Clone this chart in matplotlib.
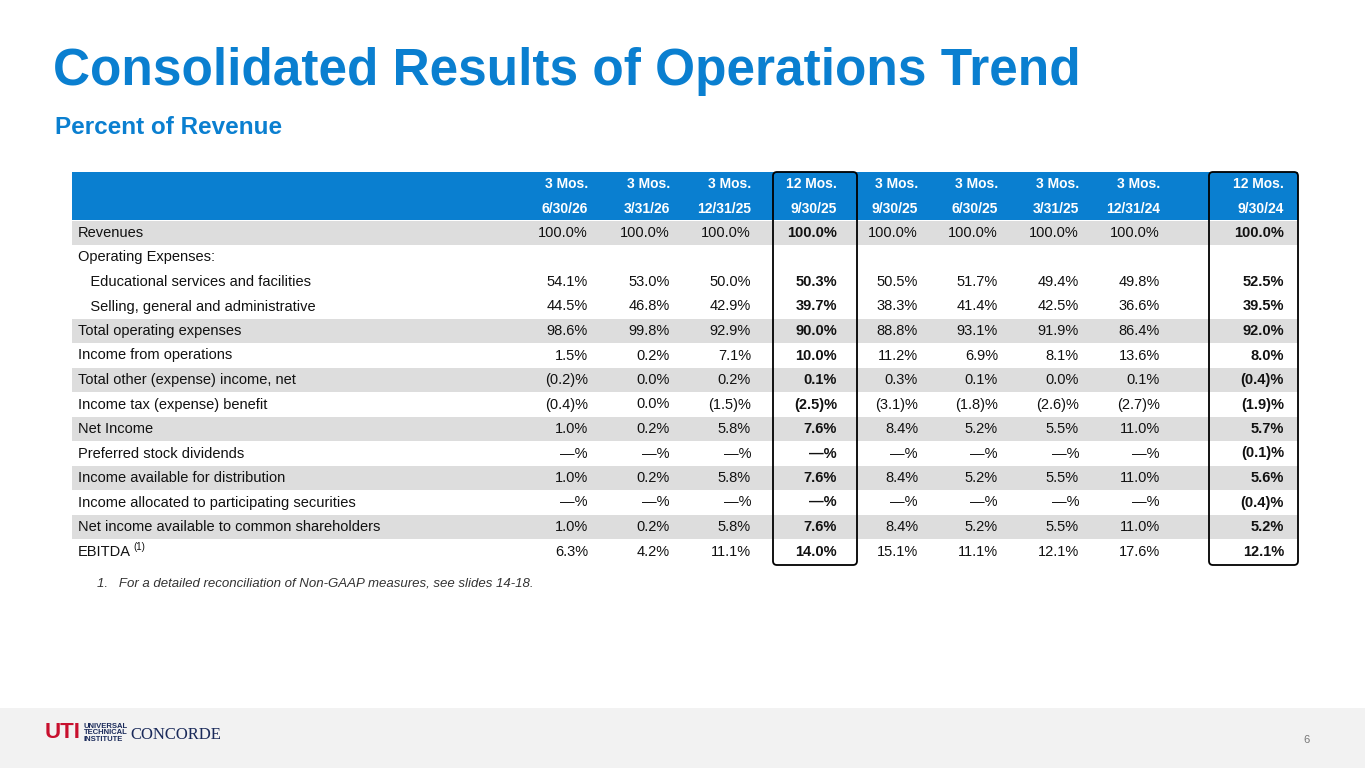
import matplotlib
matplotlib.use("Agg")
import matplotlib.pyplot as plt
from matplotlib.patches import Rectangle, FancyBboxPatch

title = "Consolidated Results of Operations Trend"
subtitle = "Percent of Revenue"
col_top = ["3 Mos.", "3 Mos.", "3 Mos.", "12 Mos.", "3 Mos.", "3 Mos.", "3 Mos.", "3 Mos.", "12 Mos."]
col_bot = ["6/30/26", "3/31/26", "12/31/25", "9/30/25", "9/30/25", "6/30/25", "3/31/25", "12/31/24", "9/30/24"]
row_labels = ["Revenues", "Operating Expenses:", "   Educational services and facilities",
              "   Selling, general and administrative", "Total operating expenses",
              "Income from operations", "Total other (expense) income, net",
              "Income tax (expense) benefit", "Net Income", "Preferred stock dividends",
              "Income available for distribution", "Income allocated to participating securities",
              "Net income available to common shareholders", "EBITDA"]
D = "—%"
values = [
    ["100.0%"] * 9,
    [""] * 9,
    ["54.1%", "53.0%", "50.0%", "50.3%", "50.5%", "51.7%", "49.4%", "49.8%", "52.5%"],
    ["44.5%", "46.8%", "42.9%", "39.7%", "38.3%", "41.4%", "42.5%", "36.6%", "39.5%"],
    ["98.6%", "99.8%", "92.9%", "90.0%", "88.8%", "93.1%", "91.9%", "86.4%", "92.0%"],
    ["1.5%", "0.2%", "7.1%", "10.0%", "11.2%", "6.9%", "8.1%", "13.6%", "8.0%"],
    ["(0.2)%", "0.0%", "0.2%", "0.1%", "0.3%", "0.1%", "0.0%", "0.1%", "(0.4)%"],
    ["(0.4)%", "0.0%", "(1.5)%", "(2.5)%", "(3.1)%", "(1.8)%", "(2.6)%", "(2.7)%", "(1.9)%"],
    ["1.0%", "0.2%", "5.8%", "7.6%", "8.4%", "5.2%", "5.5%", "11.0%", "5.7%"],
    [D, D, D, D, D, D, D, D, "(0.1)%"],
    ["1.0%", "0.2%", "5.8%", "7.6%", "8.4%", "5.2%", "5.5%", "11.0%", "5.6%"],
    [D, D, D, D, D, D, D, D, "(0.4)%"],
    ["1.0%", "0.2%", "5.8%", "7.6%", "8.4%", "5.2%", "5.5%", "11.0%", "5.2%"],
    ["6.3%", "4.2%", "11.1%", "14.0%", "15.1%", "11.1%", "12.1%", "17.6%", "12.1%"],
]
shaded = [0, 4, 6, 8, 10, 12]
bold_cols = [3, 8]

BLUE = "#0A7FD0"
plt.rcParams['font.family'] = ['Liberation Sans', 'DejaVu Sans']
fig = plt.figure(figsize=(13.65, 7.68), dpi=100)
ax = fig.add_axes([0, 0, 1, 1])
ax.set_xlim(0, 1365); ax.set_ylim(768, 0); ax.axis("off")

ax.text(53, 72, title, fontsize=37, fontweight="bold", color=BLUE, va="center")
ax.text(55, 128, subtitle, fontsize=17.5, fontweight="bold", color=BLUE, va="center")

x0, x1 = 72, 1298
ax.add_patch(Rectangle((x0, 172), x1 - x0, 48, color=BLUE, lw=0))
col_right = [588, 670, 751, 837, 918, 998, 1079, 1160, 1284]
for j in range(9):
    ax.text(col_right[j], 184, col_top[j], fontsize=10, fontweight="bold", color="white", ha="right", va="center")
    ax.text(col_right[j], 209, col_bot[j], fontsize=10, fontweight="bold", color="white", ha="right", va="center")

y0, dy = 233, 24.5
for i, lab in enumerate(row_labels):
    y = y0 + i * dy
    if i in shaded:
        ax.add_patch(Rectangle((x0, y - dy / 2), x1 - x0, dy, color="#DDDDDD", lw=0))
    ax.text(78, y, lab, fontsize=10.5, color="#111111", va="center")
    if lab == "EBITDA":
        ax.text(133, y - 5, "(1)", fontsize=7, color="#111111", va="center")
    for j in range(9):
        ax.text(col_right[j], y, values[i][j], fontsize=10.5, color="#111111", ha="right", va="center",
                fontweight="bold" if j in bold_cols else "normal")

for bx0, bx1 in [(773, 857), (1209, 1298)]:
    ax.add_patch(FancyBboxPatch((bx0, 172), bx1 - bx0, 393, boxstyle="round,pad=0,rounding_size=4",
                                fill=False, ec="black", lw=1.3))

ax.text(97, 583, "1.   For a detailed reconciliation of Non-GAAP measures, see slides 14-18.",
        fontsize=9.5, style="italic", color="#333333", va="center")

ax.add_patch(Rectangle((0, 708), 1365, 60, color="#F2F2F2", lw=0))
ax.text(45, 733, "UTI", fontsize=16, fontweight="bold", color="#C8102E", va="center")
ax.text(84, 733, "UNIVERSAL\nTECHNICAL\nINSTITUTE", fontsize=5.5, fontweight="bold", color="#1a2a5a",
        va="center", linespacing=0.95)
ax.text(130, 735, "CONCORDE", fontsize=12, color="#1a2a5a", va="center", family=['Liberation Serif'])
ax.text(1307, 740, "6", fontsize=8, color="#777777", ha="center", va="center")

fig.savefig("out.png", dpi=100)
